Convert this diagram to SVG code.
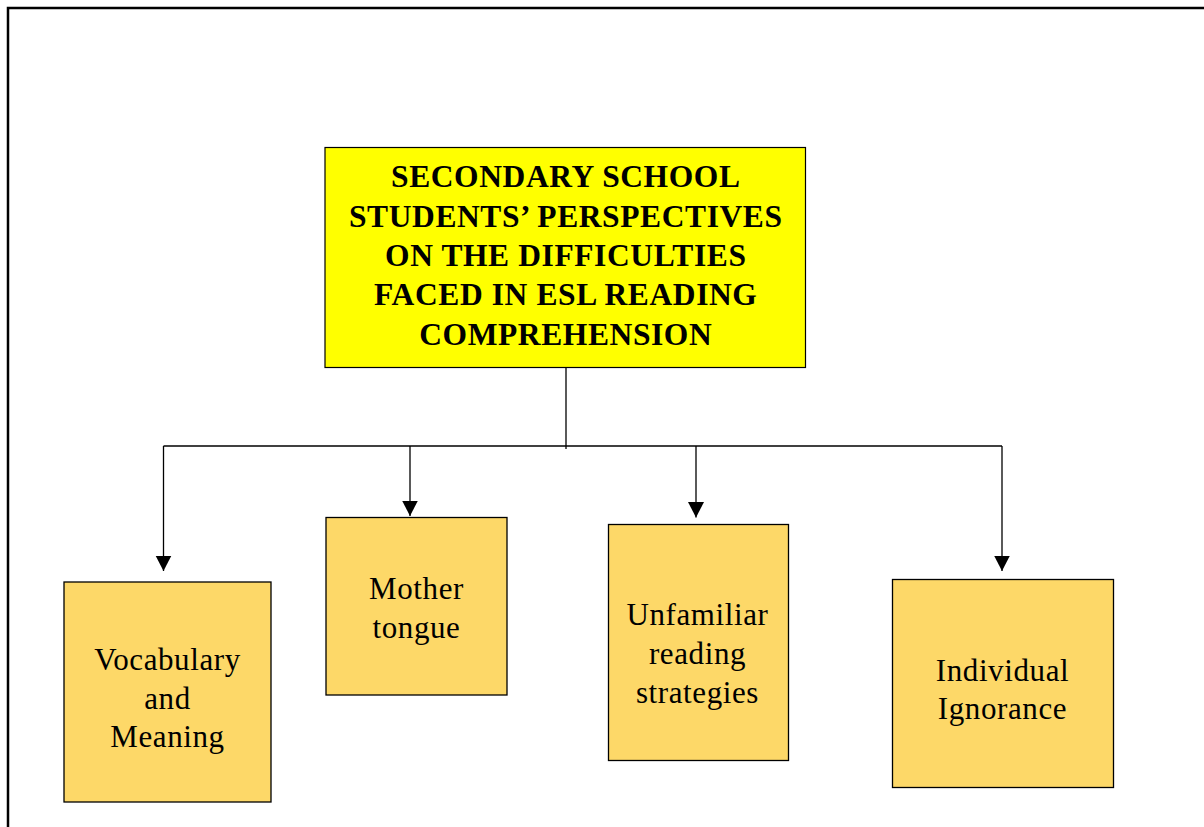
<svg xmlns="http://www.w3.org/2000/svg" width="1204" height="827" viewBox="0 0 1204 827">
<defs>
<style>
.frame{fill:none;stroke:#000;stroke-width:2.5}
.title{fill:#FFFF00;stroke:#000;stroke-width:1.2}
.box{fill:#FDD868;stroke:#000;stroke-width:1.3}
.tt{font-family:"Liberation Serif","Times New Roman",serif;font-weight:bold;font-size:31.5px;letter-spacing:0.6px;text-anchor:middle;fill:#000}
.bt{font-family:"Liberation Serif","Times New Roman",serif;font-size:31px;letter-spacing:0.6px;text-anchor:middle;fill:#000}
.conn{fill:none;stroke:#000;stroke-width:1.3}
</style>
<marker id="arr" markerUnits="userSpaceOnUse" markerWidth="17" markerHeight="17" viewBox="0 0 17 17" refX="15.5" refY="8.5" orient="auto">
<path d="M0,0.5 L15.5,8.5 L0,16.5 Z" fill="#000"/>
</marker>
</defs>
<rect width="1204" height="827" fill="#fff"/>
<rect class="frame" x="8" y="8" width="1220" height="840"/>
<g id="connectors">
<line class="conn" x1="566" y1="367" x2="566" y2="449"/>
<line class="conn" x1="163.5" y1="446" x2="1002" y2="446"/>
<line class="conn" x1="163.5" y1="446" x2="163.5" y2="571" marker-end="url(#arr)"/>
<line class="conn" x1="410" y1="446" x2="410" y2="516" marker-end="url(#arr)"/>
<line class="conn" x1="696" y1="446" x2="696" y2="517.5" marker-end="url(#arr)"/>
<line class="conn" x1="1002" y1="446" x2="1002" y2="571" marker-end="url(#arr)"/>
</g>
<g id="title">
<rect class="title" x="325" y="147.5" width="480.5" height="220"/>
<text class="tt" x="565.8" y="187">SECONDARY SCHOOL</text>
<text class="tt" x="565.8" y="226.5">STUDENTS’ PERSPECTIVES</text>
<text class="tt" x="565.8" y="266">ON THE DIFFICULTIES</text>
<text class="tt" x="565.8" y="305">FACED IN ESL READING</text>
<text class="tt" x="565.8" y="344.5">COMPREHENSION</text>
</g>
<g id="vocabulary">
<rect class="box" x="64" y="582" width="207" height="220"/>
<text class="bt" x="167.5" y="670">Vocabulary</text>
<text class="bt" x="167.5" y="708.5">and</text>
<text class="bt" x="167.5" y="747">Meaning</text>
</g>
<g id="mother-tongue">
<rect class="box" x="326" y="517.5" width="181" height="177.5"/>
<text class="bt" x="416.5" y="599">Mother</text>
<text class="bt" x="416.5" y="637.5">tongue</text>
</g>
<g id="unfamiliar">
<rect class="box" x="608.5" y="524.5" width="180" height="236"/>
<text class="bt" x="697.5" y="625">Unfamiliar</text>
<text class="bt" x="697.5" y="664">reading</text>
<text class="bt" x="697.5" y="702.5">strategies</text>
</g>
<g id="individual">
<rect class="box" x="892.5" y="579.5" width="221" height="208"/>
<text class="bt" x="1002.5" y="680.5">Individual</text>
<text class="bt" x="1002.5" y="719">Ignorance</text>
</g>
</svg>
